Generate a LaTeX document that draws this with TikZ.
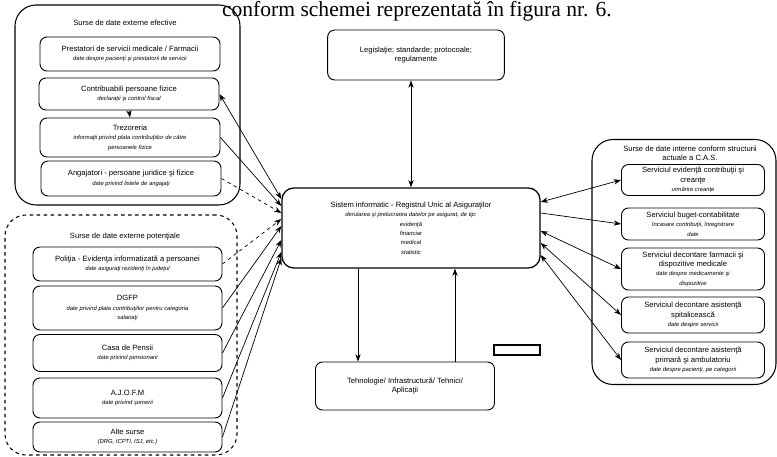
\documentclass[tikz,border=0pt]{standalone}
\usepackage{fontspec}
\setmainfont{Liberation Serif}
\setsansfont{Liberation Sans}
\usetikzlibrary{arrows.meta, positioning}

\newcommand{\descfont}{\fontsize{5}{8}\selectfont\itshape}

\begin{document}
\begin{tikzpicture}[
    x=0.03cm, y=-0.03cm,
    block/.style={rectangle, draw, line width=0.8pt, rounded corners=6pt, align=center, inner sep=1pt, font=\sffamily\fontsize{6.5}{8}\selectfont},
    group/.style={rectangle, draw, line width=0.9pt, rounded corners=18pt},
    grouptitle/.style={align=center, font=\sffamily\fontsize{6.5}{8}\selectfont},
    arrow/.style={-{Stealth[length=2.2mm, width=1.6mm]}, line width=0.6pt},
    twoway/.style={{Stealth[length=2.2mm, width=1.6mm]}-{Stealth[length=2.2mm, width=1.6mm]}, line width=0.6pt}
]
\clip (0,0) rectangle (777,457);

% Text of the page above the figure
\node[anchor=base east, inner sep=0pt, font=\fontsize{18.4}{20}\selectfont] (intro) at (612,17) {conform schemei reprezentată în figura nr. 6.};

% Left top: effective external sources
\node[group, minimum width=6.75cm, minimum height=6cm] (grpEfective) at (127.5,105) {};
\node[grouptitle] (titEfective) at (125,23) {Surse de date externe efective};
\node[block, minimum width=5.4cm, minimum height=1.02cm] (prestatori) at (130,54) {Prestatori de servicii medicale / Farmacii\\ \descfont date despre pacienţi şi prestatorii de servicii};
\node[block, minimum width=5.4cm, minimum height=0.96cm] (contrib) at (129,94) {Contribuabili persoane fizice\\ \descfont declaraţii şi control fiscal};
\node[block, minimum width=5.4cm, minimum height=1.17cm] (trezor) at (130,137.5) {Trezoreria\\ \descfont informaţii privind plata contribuţiilor de către\\ \descfont persoanele fizice};
\node[block, minimum width=5.4cm, minimum height=1.05cm] (angaj) at (131,178.5) {Angajatori - persoane juridice şi fizice\\ \descfont date privind listele de angajaţi};

% Left bottom: potential external sources
\node[group, dashed, minimum width=6.96cm, minimum height=7.2cm] (grpPotential) at (121,335) {};
\node[grouptitle] (titPotential) at (125,237) {Surse de date externe potenţiale};
\node[block, minimum width=5.67cm, minimum height=1.02cm] (politia) at (127.5,264) {Poliţia - Evidenţa informatizată a persoanei\\ \descfont date asiguraţi rezidenţi în judeţul};
\node[block, minimum width=5.67cm, minimum height=1.32cm] (dgfp) at (127.5,308) {DGFP\\ \descfont date privind plata contribuţiilor pentru categoria\\ \descfont salariaţi};
\node[block, minimum width=5.67cm, minimum height=1.11cm] (pensii) at (127.5,353) {Casa de Pensii\\ \descfont date privind pensionarii};
\node[block, minimum width=5.67cm, minimum height=1.2cm] (ajofm) at (127.5,398) {A.J.O.F.M\\ \descfont date privind şomerii};
\node[block, minimum width=5.67cm, minimum height=0.9cm] (alte) at (127.5,437) {Alte surse\\ \descfont (DRG, ICPTI, ISJ, etc.)};

% Centre
\node[block, minimum width=5.3cm, minimum height=1.5cm] (legis) at (416,55) {Legislaţie; standarde; protocoale;\\regulamente};
\node[block, line width=1.1pt, rounded corners=10pt, minimum width=7.74cm, minimum height=2.4cm] (sistem) at (411,228) {Sistem informatic - Registrul Unic al Asiguraţilor\\ \descfont derularea şi prelucrarea datelor pe asigurat, de tip:\\ \descfont evidenţă\\ \descfont financiar\\ \descfont medical\\ \descfont statistic};
\node[block, minimum width=5.37cm, minimum height=1.44cm] (tehno) at (405,386) {Tehnologie/ Infrastructură/ Tehnici/\\Aplicaţii};
\node[rectangle, draw, line width=1.5pt, minimum width=1.38cm, minimum height=0.3cm] (marker) at (517,350) {};

% Right: internal sources
\node[group, minimum width=5.52cm, minimum height=7.35cm] (grpInterne) at (684,262) {};
\node[grouptitle] (titInterne) at (690,153) {Surse de date interne conform structurii\\actuale a C.A.S.};
\node[block, minimum width=4.29cm, minimum height=0.93cm] (evid) at (693,180) {Serviciul evidenţă contribuţii şi\\creanţe\\ \descfont urmărire creanţe};
\node[block, minimum width=4.29cm, minimum height=0.96cm] (buget) at (693,224) {Serviciul buget-contabilitate\\ \descfont încasare contribuţii, înregistrare\\ \descfont date};
\node[block, minimum width=4.29cm, minimum height=1.26cm] (farm) at (693,269) {Serviciul decontare farmacii şi\\dispozitive medicale\\ \descfont date despre medicamente şi\\ \descfont dispozitive};
\node[block, minimum width=4.29cm, minimum height=1.08cm] (spital) at (693,315) {Serviciul decontare asistenţă\\spitalicească\\ \descfont date despre servicii};
\node[block, minimum width=4.29cm, minimum height=1.08cm] (primar) at (693,360) {Serviciul decontare asistenţă\\primară şi ambulatoriu\\ \descfont date despre pacienţi, pe categorii};

% === Arrows ===
\draw[arrow] (contrib.south) -- (trezor.north);

% Left sources -> sistem
\draw[twoway] (contrib.east) -- ([yshift=0.87cm]sistem.west);
\draw[arrow] (trezor.east) -- ([yshift=0.66cm]sistem.west);
\draw[arrow, dashed] (angaj.east) -- ([yshift=0.45cm]sistem.west);
\draw[arrow, dashed] (politia.east) -- ([yshift=0.27cm]sistem.west);
\draw[arrow] (dgfp.east) -- ([yshift=0.06cm]sistem.west);
\draw[arrow] (pensii.east) -- ([yshift=-0.36cm]sistem.west);
\draw[arrow] (ajofm.east) -- ([yshift=-0.72cm]sistem.west);
\draw[arrow] (alte.east) -- ([yshift=-0.9cm]sistem.west);

% Legislatie and technology
\draw[twoway] (sistem.north) -- (sistem.north |- legis.south);
\draw[arrow] ([xshift=-1.59cm]sistem.south) -- ([xshift=-1.59cm]sistem.south |- tehno.north);
\draw[arrow] ([xshift=1.32cm]sistem.south |- tehno.north) -- ([xshift=1.32cm]sistem.south);

% Sistem <-> internal services
\draw[twoway] ([yshift=0.78cm]sistem.east) -- (evid.west);
\draw[arrow] ([yshift=0.45cm]sistem.east) -- (buget.west);
\draw[twoway] ([yshift=-0.09cm]sistem.east) -- (farm.west);
\draw[twoway] ([yshift=-0.45cm]sistem.east) -- (spital.west);
\draw[twoway] ([yshift=-0.81cm]sistem.east) -- (primar.west);
\end{tikzpicture}
\end{document}
